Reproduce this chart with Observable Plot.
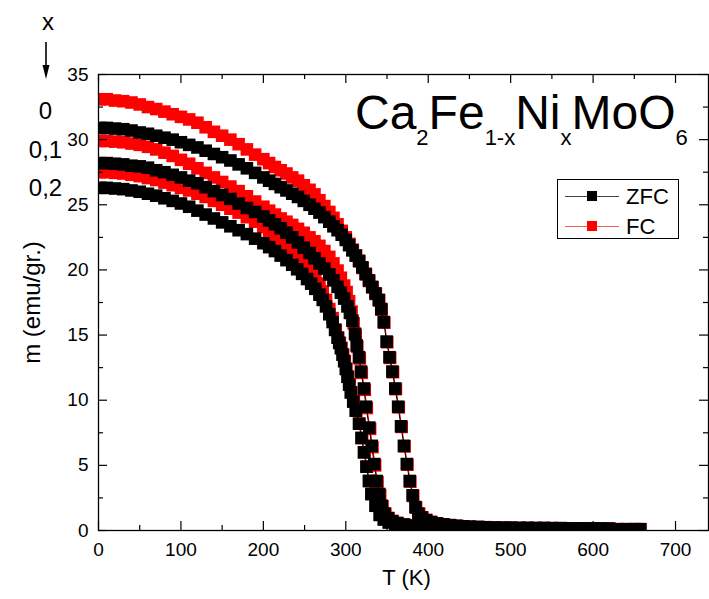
<!DOCTYPE html>
<html><head><meta charset="utf-8">
<script src="https://cdn.jsdelivr.net/npm/d3@7"></script>
<script src="https://cdn.jsdelivr.net/npm/@observablehq/plot@0.6"></script>
<style>body{margin:0;background:#fff;} #chart{width:709px;height:599px;}</style>
</head><body><div id="chart"></div>
<script>
// ---- data: [T (K), m (emu/gr.)] ----
const zfc_x0 = [[2,30.9],[10,30.9],[20,30.85],[30,30.8],[40,30.7],[50,30.55],[60,30.45],[70,30.3],[80,30.15],[90,30.0],[100,29.8],[110,29.6],[120,29.4],[130,29.15],[140,28.9],[150,28.65],[160,28.4],[170,28.1],[180,27.8],[190,27.45],[200,27.1],[207,26.85],[214,26.6],[221,26.35],[228,26.1],[235,25.85],[242,25.6],[249,25.3],[256,25.0],[262,24.7],[268,24.4],[274,24.05],[280,23.7],[285,23.35],[290,23.05],[295,22.7],[300,22.3],[304,21.9],[308,21.5],[312,21.1],[316,20.7],[320,20.2],[324,19.7],[328,19.2],[332,18.7],[336,18.2],[340,17.7],[343,17.0],[346,16.0],[349.5,14.5],[353,13.3],[356.5,12.2],[360,10.9],[363.5,9.5],[367,8.0],[370.5,6.5],[374,5.1],[377.5,3.8],[381,2.7],[384.5,1.8],[388,1.3],[392,1.0],[397,0.8],[403,0.65],[410,0.55],[418,0.47],[426,0.41],[434,0.36],[442,0.32],[450,0.29],[460,0.27],[470,0.25],[480,0.23],[490,0.22],[500,0.21],[510,0.2],[520,0.2],[530,0.19],[540,0.19],[550,0.18],[560,0.18],[570,0.17],[580,0.17],[590,0.16],[600,0.16],[610,0.15],[618,0.15]];
const fc_x0 = [[2,33.1],[10,33.1],[20,33.0],[30,32.95],[40,32.85],[50,32.7],[60,32.5],[70,32.35],[80,32.15],[90,31.95],[100,31.75],[110,31.55],[120,31.3],[130,30.95],[140,30.6],[150,30.3],[160,30.0],[170,29.65],[180,29.25],[190,28.85],[200,28.5],[207,28.2],[214,27.9],[221,27.65],[228,27.4],[235,27.1],[242,26.85],[249,26.5],[256,26.15],[262,25.8],[268,25.35],[274,24.9],[280,24.45],[285,24.0],[290,23.5],[295,23.0],[300,22.5],[304.5,22.0],[308.5,21.55],[312.5,21.1],[316.5,20.65],[320.5,20.15],[324.5,19.65],[328.5,19.15],[332.5,18.65],[336.5,18.15],[340.5,17.65],[343.5,16.95],[346.8,15.95],[350.3,14.45],[353.8,13.25],[357.3,12.15],[360.8,10.85],[364.3,9.45],[367.8,7.95],[371.3,6.45],[374.8,5.05],[378.3,3.75],[381.8,2.65],[385.3,1.75],[389,1.28],[393,1.0],[398,0.8],[404,0.65],[411,0.55],[419,0.47],[427,0.41],[435,0.36],[443,0.32],[451,0.29],[461,0.27],[471,0.25],[481,0.23],[491,0.22],[501,0.21],[511,0.2],[521,0.2],[531,0.19],[541,0.19],[551,0.18],[561,0.18],[571,0.17],[581,0.17],[591,0.16],[601,0.16],[611,0.15],[620,0.15]];
const zfc_x01 = [[2,28.2],[10,28.2],[20,28.15],[30,28.1],[40,28.0],[50,27.95],[60,27.85],[70,27.65],[80,27.5],[90,27.3],[100,27.1],[110,26.85],[120,26.65],[130,26.35],[140,26.05],[150,25.75],[160,25.45],[170,25.1],[180,24.75],[190,24.45],[200,24.1],[207,23.8],[214,23.5],[221,23.2],[228,22.85],[235,22.5],[242,22.1],[249,21.7],[256,21.3],[262,20.9],[268,20.5],[274,20.1],[280,19.65],[285,19.2],[290,18.7],[294,18.25],[298,17.8],[302,17.2],[305,16.7],[308,16.1],[311.2,15.1],[313.2,14.2],[316,13.3],[318.4,12.2],[322,10.9],[324.5,9.5],[328.5,7.9],[331.4,6.5],[334.6,5.1],[337.5,3.8],[340.7,2.8],[343.6,1.9],[347,1.3],[351,0.95],[356,0.72],[362,0.57],[370,0.46],[380,0.38],[390,0.32],[400,0.28],[410,0.25],[420,0.23],[430,0.21],[440,0.19],[450,0.18],[460,0.17],[470,0.16],[480,0.16],[490,0.15],[500,0.15],[510,0.14],[520,0.14],[530,0.13],[540,0.13],[550,0.13],[560,0.12],[570,0.12],[580,0.12],[590,0.11],[600,0.11],[610,0.11],[620,0.1],[630,0.1],[640,0.1],[650,0.1],[657,0.1]];
const fc_x01 = [[2,29.9],[10,29.9],[20,29.85],[30,29.8],[40,29.7],[50,29.6],[60,29.45],[70,29.25],[80,29.0],[90,28.75],[100,28.45],[110,28.15],[120,27.8],[130,27.45],[140,27.1],[150,26.75],[160,26.4],[170,26.05],[180,25.65],[190,25.25],[200,24.85],[207,24.55],[214,24.25],[221,23.95],[228,23.7],[235,23.45],[242,23.15],[249,22.85],[256,22.5],[262,22.2],[268,21.85],[274,21.45],[280,21.0],[285,20.5],[290,19.95],[294,19.4],[298,18.8],[301,18.3],[304,17.6],[307,16.8],[309.5,15.9],[312,15.0],[314,14.1],[317,13.2],[319.4,12.1],[323,10.8],[325.5,9.4],[329.5,7.8],[332.4,6.4],[335.6,5.0],[338.5,3.7],[341.7,2.7],[344.6,1.85],[348,1.28],[352,0.95],[357,0.72],[363,0.57],[371,0.46],[381,0.38],[391,0.32],[401,0.28],[411,0.25],[421,0.23],[431,0.21],[441,0.19],[451,0.18],[461,0.17],[471,0.16],[481,0.16],[491,0.15],[501,0.15],[511,0.14],[521,0.14],[531,0.13],[541,0.13],[551,0.13],[561,0.12],[571,0.12],[581,0.12],[591,0.11],[601,0.11],[611,0.11],[621,0.1],[631,0.1],[641,0.1],[651,0.1],[657,0.1]];
const zfc_x02 = [[2,26.3],[10,26.3],[20,26.25],[30,26.2],[40,26.1],[50,26.0],[60,25.85],[70,25.7],[80,25.5],[90,25.3],[100,25.1],[110,24.85],[120,24.55],[130,24.25],[140,23.95],[150,23.65],[160,23.35],[170,23.05],[180,22.75],[190,22.4],[200,22.05],[207,21.75],[214,21.45],[221,21.1],[228,20.75],[235,20.4],[241,20.05],[247,19.7],[253,19.3],[258,18.95],[263,18.55],[268,18.1],[272,17.7],[276,17.2],[280,16.6],[284,16.0],[287,15.4],[290,14.8],[292,14.4],[294,14.0],[296,13.5],[298,13.0],[300,12.4],[302,11.8],[304,11.2],[306,10.6],[309,9.9],[312,9.2],[316,8.2],[319,7.1],[322,6.0],[325,4.9],[328,3.8],[331,2.8],[336,1.9],[341,1.2],[346,0.85],[352,0.62],[360,0.48],[370,0.38],[380,0.32],[390,0.28],[400,0.25],[410,0.22],[420,0.2],[430,0.18],[440,0.17],[450,0.16],[460,0.15],[470,0.15],[480,0.14],[490,0.14],[500,0.13],[510,0.13],[520,0.12],[530,0.12],[540,0.12],[550,0.11],[560,0.11],[570,0.11],[580,0.1],[590,0.1],[600,0.1],[610,0.1],[620,0.09],[630,0.09],[640,0.09],[650,0.09],[657,0.09]];
const fc_x02 = [[2,27.5],[10,27.5],[20,27.45],[30,27.4],[40,27.3],[50,27.2],[60,27.05],[70,26.9],[80,26.7],[90,26.5],[100,26.3],[110,26.1],[120,25.85],[130,25.6],[140,25.3],[150,25.0],[160,24.7],[170,24.4],[180,24.05],[190,23.7],[200,23.3],[207,23.0],[214,22.7],[221,22.35],[228,22.0],[235,21.65],[241,21.35],[247,21.0],[253,20.6],[258,20.1],[263,19.55],[268,18.95],[272,18.35],[276,17.7],[280,17.0],[284,16.3],[287.8,15.4],[290.8,14.8],[292.8,14.4],[294.8,14.0],[296.8,13.5],[298.8,13.0],[300.8,12.4],[302.8,11.8],[304.8,11.2],[306.8,10.6],[309.8,9.9],[312.8,9.2],[316.8,8.2],[319.8,7.1],[322.8,6.0],[325.8,4.9],[328.8,3.8],[331.8,2.8],[336.8,1.9],[341.8,1.2],[347,0.85],[353,0.62],[361,0.48],[371,0.38],[381,0.32],[391,0.28],[401,0.25],[411,0.22],[421,0.2],[431,0.18],[441,0.17],[451,0.16],[461,0.15],[471,0.15],[481,0.14],[491,0.14],[501,0.13],[511,0.13],[521,0.12],[531,0.12],[541,0.12],[551,0.11],[561,0.11],[571,0.11],[581,0.1],[591,0.1],[601,0.1],[611,0.1],[621,0.09],[631,0.09],[641,0.09],[651,0.09],[657,0.09]];

const compositions = ["0", "0,1", "0,2"];
const compLabelM = [32.2, 29.2, 26.3];
const modes = ["ZFC", "FC"];
const modeColors = ["#000000", "#ff0000"];
const xMajor = [0,100,200,300,400,500,600,700];
const xMinor = [50,150,250,350,450,550,650];
const yMajor = [0,5,10,15,20,25,30,35];
const yMinor = [2.5,7.5,12.5,17.5,22.5,27.5,32.5];

// build tidy table
const series = [
  {mode: "FC", comp: "0", pts: fc_x0},
  {mode: "FC", comp: "0,1", pts: fc_x01},
  {mode: "FC", comp: "0,2", pts: fc_x02},
  {mode: "ZFC", comp: "0", pts: zfc_x0},
  {mode: "ZFC", comp: "0,1", pts: zfc_x01},
  {mode: "ZFC", comp: "0,2", pts: zfc_x02}
];
const rows = series.flatMap(s => s.pts.map(([T, m]) => ({T, m, mode: s.mode, comp: s.comp, key: s.mode + s.comp})));
const fcRows = rows.filter(d => d.mode === "FC");
const zfcRows = rows.filter(d => d.mode === "ZFC");

const W = 709, H = 599;
const mL = 98, mR = 1, mT = 74, mB = 69;
const frameW = W - mL - mR, frameH = H - mT - mB;
const font = "'Liberation Sans', Arial, sans-serif";
const R = 7.1;

const plot = Plot.plot({
  width: W, height: H,
  marginLeft: mL, marginRight: mR, marginTop: mT, marginBottom: mB,
  style: {fontFamily: font, fontSize: "19px", background: "white", color: "black"},
  x: {domain: [0, 740]},
  y: {domain: [0, 35]},
  color: {domain: modes, range: modeColors},
  marks: [
    // series
    Plot.line(fcRows, {x: "T", y: "m", z: "key", stroke: "#ff0000", strokeWidth: 1, clip: true}),
    Plot.dot(fcRows, {x: "T", y: "m", symbol: "square", r: R, fill: "#ff0000", stroke: null, clip: true}),
    Plot.line(zfcRows, {x: "T", y: "m", z: "key", stroke: "#000000", strokeWidth: 1, clip: true}),
    Plot.dot(zfcRows, {x: "T", y: "m", symbol: "square", r: R, fill: "#000000", stroke: null, clip: true}),
    // frame and inward ticks on all four sides
    Plot.frame({stroke: "black", strokeWidth: 1.3}),
    Plot.ruleX(xMajor, {stroke: "black", strokeWidth: 1.2, insetTop: frameH - 9}),
    Plot.ruleX(xMinor, {stroke: "black", strokeWidth: 1.2, insetTop: frameH - 5}),
    Plot.ruleX(xMajor, {stroke: "black", strokeWidth: 1.2, insetBottom: frameH - 9}),
    Plot.ruleX(xMinor, {stroke: "black", strokeWidth: 1.2, insetBottom: frameH - 5}),
    Plot.ruleY(yMajor, {stroke: "black", strokeWidth: 1.2, insetRight: frameW - 9}),
    Plot.ruleY(yMinor, {stroke: "black", strokeWidth: 1.2, insetRight: frameW - 5}),
    Plot.ruleY(yMajor, {stroke: "black", strokeWidth: 1.2, insetLeft: frameW - 9}),
    Plot.ruleY(yMinor, {stroke: "black", strokeWidth: 1.2, insetLeft: frameW - 5}),
    // tick labels
    Plot.axisX({ticks: xMajor, tickSize: 0, tickPadding: 12, label: null, fontSize: 19}),
    Plot.axisY({ticks: yMajor, tickSize: 0, tickPadding: 10, label: null, fontSize: 19}),
    // axis titles
    Plot.text(["T (K)"], {frameAnchor: "bottom", dx: 3, dy: 54, fontSize: 22, textAnchor: "middle"}),
    Plot.text(["m (emu/gr.)"], {frameAnchor: "left", dx: -66, rotate: -90, fontSize: 24, textAnchor: "middle"}),
    // composition labels
    Plot.text(compositions, {y: (d, i) => compLabelM[i], text: d => d, frameAnchor: "left", dx: -53, fontSize: 24, textAnchor: "middle"})
  ]
});
document.getElementById("chart").appendChild(plot);

const svg = d3.select(plot);
// "x" label with arrow
svg.append("text").attr("x", 48).attr("y", 30).attr("text-anchor", "middle")
  .attr("font-family", font).attr("font-size", 24).attr("fill", "black").text("x");
svg.append("line").attr("x1", 46).attr("x2", 46).attr("y1", 42).attr("y2", 68)
  .attr("stroke", "black").attr("stroke-width", 1.6);
svg.append("path").attr("d", "M42.5,65 L49.5,65 L46,79 Z").attr("fill", "black");

// formula title
const formula = [["Ca", false], ["2", true], ["Fe", false], ["1-x", true], ["Ni", false], ["x", true], ["MoO", false], ["6", true]];
const t = svg.append("text").attr("x", 355).attr("y", 129).attr("text-anchor", "start")
  .attr("font-family", font).attr("font-size", 48).attr("fill", "black");
let sub = false;
formula.forEach(([s, isSub]) => {
  const ts = t.append("tspan").text(s);
  if (isSub) ts.attr("font-size", 22);
  if (isSub && !sub) ts.attr("dy", 16);
  else if (!isSub && sub) ts.attr("dy", -16);
  sub = isSub;
});

// legend
const lg = svg.append("g").attr("font-family", font).attr("font-size", 22).attr("text-anchor", "start");
lg.append("rect").attr("x", 557.5).attr("y", 179.5).attr("width", 121).attr("height", 59)
  .attr("fill", "white").attr("stroke", "black").attr("stroke-width", 1);
modes.forEach((mname, i) => {
  const cy = 196 + i * 30;
  lg.append("line").attr("x1", 565).attr("x2", 619).attr("y1", cy + 0.5).attr("y2", cy + 0.5)
    .attr("stroke", i === 0 ? "#444" : "#ff5555").attr("stroke-width", 1);
  lg.append("rect").attr("x", 587).attr("y", cy - 5).attr("width", 10).attr("height", 10)
    .attr("fill", modeColors[i]);
  lg.append("text").attr("x", 626).attr("y", cy + 8).attr("fill", "black").text(mname);
});
</script></body></html>
